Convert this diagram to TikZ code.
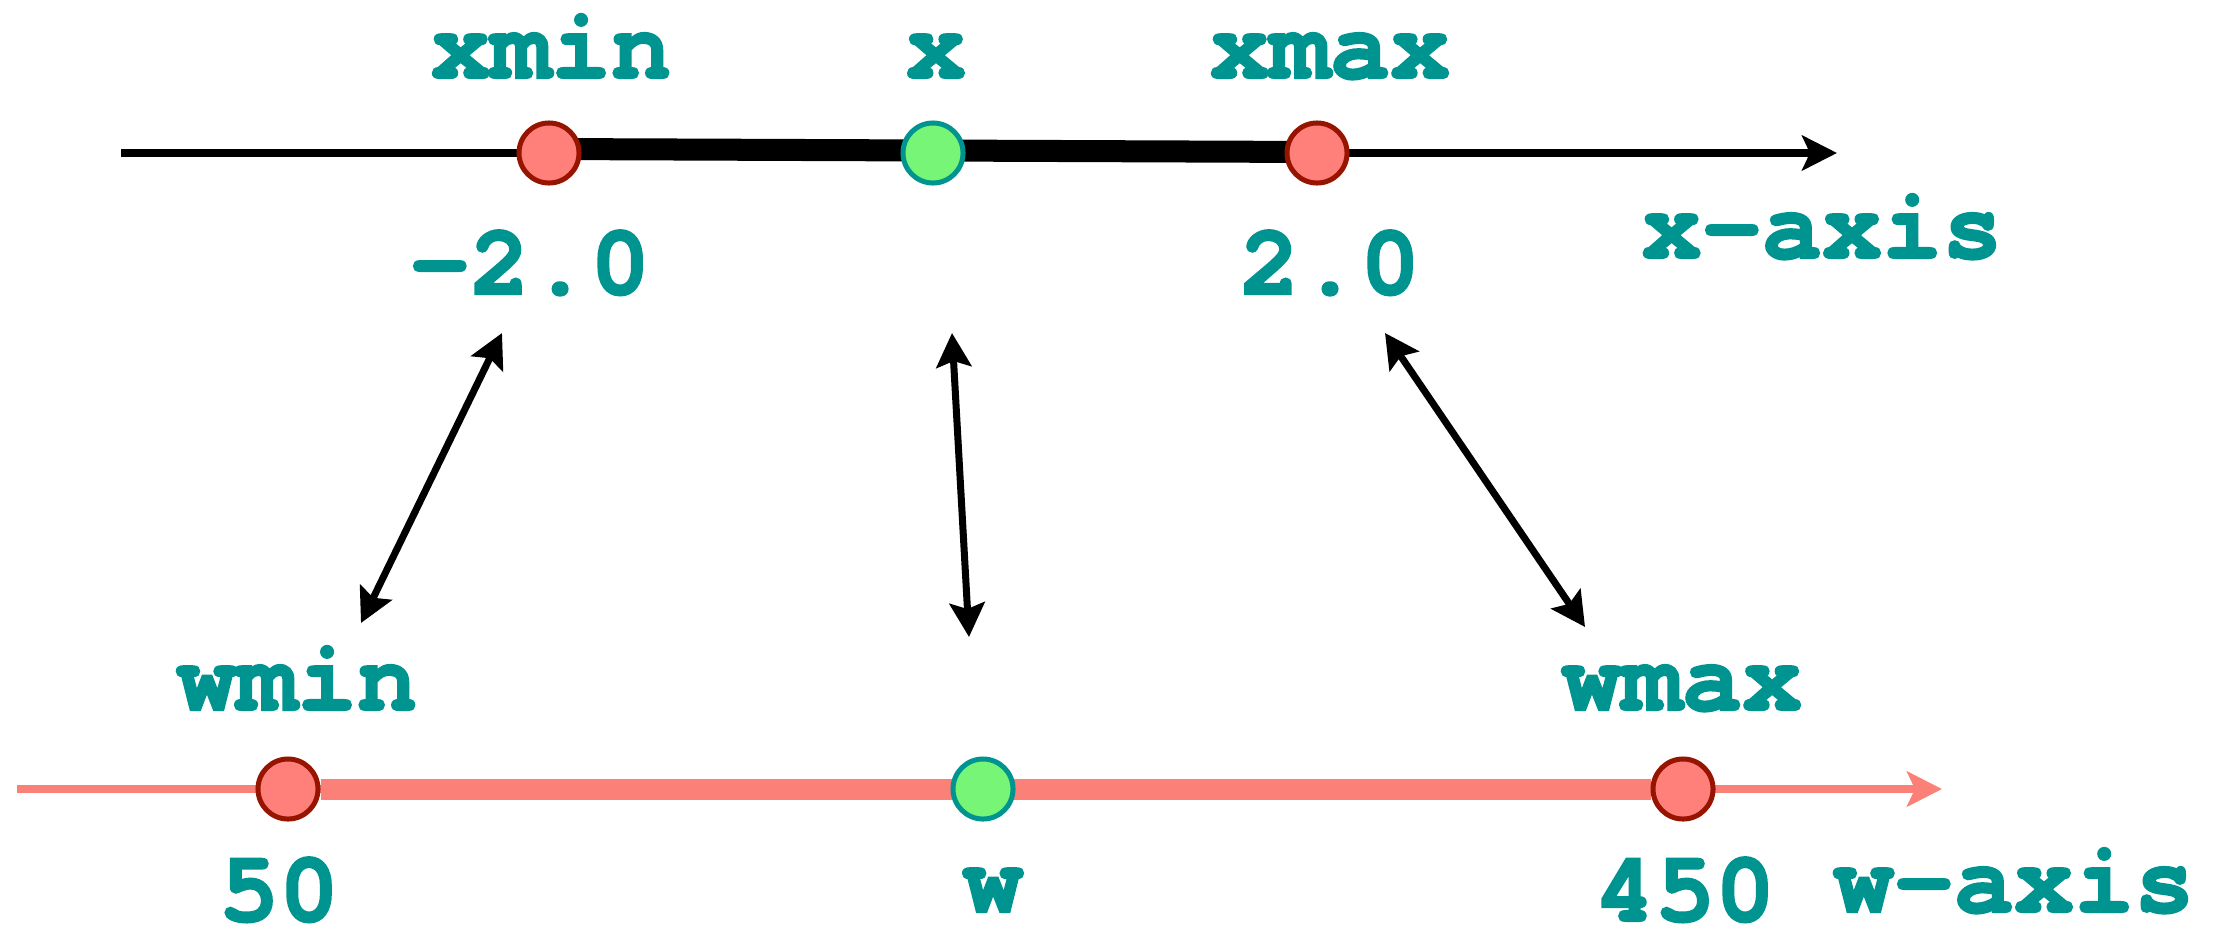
\documentclass[tikz,border=0pt]{standalone}
\usepackage{fontspec}
\newfontfamily\labelfont{texgyrecursor}[Extension=.otf, UprightFont=*-regular,
  BoldFont=*-bold, BoldFeatures={FakeBold=2}]
\usepackage{tikz}
\usetikzlibrary{arrows.meta}
\usetikzlibrary{calc}
\usetikzlibrary{backgrounds}

\definecolor{labelteal}{RGB}{0,148,144}
\definecolor{endred}{RGB}{255,128,122}
\definecolor{endrim}{RGB}{150,20,0}
\definecolor{midgreen}{RGB}{118,245,118}
\definecolor{waxis}{RGB}{250,128,120}

\tikzset{
  lbl/.style={inner sep=0pt, anchor=base, text=labelteal,
    font=\labelfont\bfseries\fontsize{28.5}{30}\selectfont},
  endpt/.style={circle, inner sep=0pt, minimum size=0.6cm, line width=0.05cm,
    draw=endrim, fill=endred},
  midpt/.style={circle, inner sep=0pt, minimum size=0.6cm, line width=0.05cm,
    draw=labelteal, fill=midgreen},
  axisarrow/.style={-{Stealth[length=0.35cm,width=0.35cm,inset=0.08cm]}},
  maparrow/.style={line width=0.07cm,
    {Stealth[length=0.34cm,width=0.35cm,inset=0.06cm]}-{Stealth[length=0.34cm,width=0.35cm,inset=0.06cm]}}
}

\begin{document}
\begin{tikzpicture}[x=0.01cm,y=-0.01cm]
  \useasboundingbox (0,0) rectangle (2219,930);

  % points on the x-axis
  \node[endpt] (xmin) at (549,153) {};
  \node[midpt] (x) at (933,153) {};
  \node[endpt] (xmax) at (1317,153) {};

  % points on the w-axis
  \node[endpt] (wmin) at (288,789) {};
  \node[midpt] (w) at (983,789) {};
  \node[endpt] (wmax) at (1683,789) {};

  % axes
  \begin{pgfonlayer}{background}
    \coordinate (xstart) at (121,153);
    \coordinate (xend) at (1837,153);
    \draw[line width=0.08cm, axisarrow] (xstart) -- (xend);
    \draw[line width=0.22cm] ($(xmin)+(0,-4)$) -- ($(xmax)+(0,-1)$);

    \coordinate (wstart) at (17,789);
    \coordinate (wend) at (1942,789);
    \draw[waxis, line width=0.08cm, axisarrow] (wstart) -- (wend);
    \draw[waxis, line width=0.21cm] (wmin) -- (wmax);
  \end{pgfonlayer}

  % labels, top
  \node[lbl] (xminlbl) at (551,78) {xmin};
  \node[lbl] (xlbl) at (936,78) {x};
  \node[lbl] (xmaxlbl) at (1330,78) {xmax};
  \node[lbl] (xminval) at (530,294) {-2.0};
  \node[lbl] (xmaxval) at (1330,294) {2.0};
  \node[lbl] (xaxislbl) at (1822,258) {x-axis};

  % labels, bottom
  \node[lbl] (wminlbl) at (297,710) {wmin};
  \node[lbl] (wmaxlbl) at (1682,710) {wmax};
  \node[lbl] (wminval) at (279,921) {50};
  \node[lbl] (wlbl) at (993,912) {w};
  \node[lbl] (wmaxval) at (1685,921) {450};
  \node[lbl] (waxislbl) at (2014,912) {w-axis};

  % mapping arrows
  \coordinate (lefttop) at (502,333);
  \coordinate (leftbot) at (361,623);
  \coordinate (midtop) at (952,333);
  \coordinate (midbot) at (969,637);
  \coordinate (righttop) at (1385,333);
  \coordinate (rightbot) at (1585,627);
  \draw[maparrow] (lefttop) -- (leftbot);
  \draw[maparrow] (midtop) -- (midbot);
  \draw[maparrow] (righttop) -- (rightbot);
\end{tikzpicture}
\end{document}
